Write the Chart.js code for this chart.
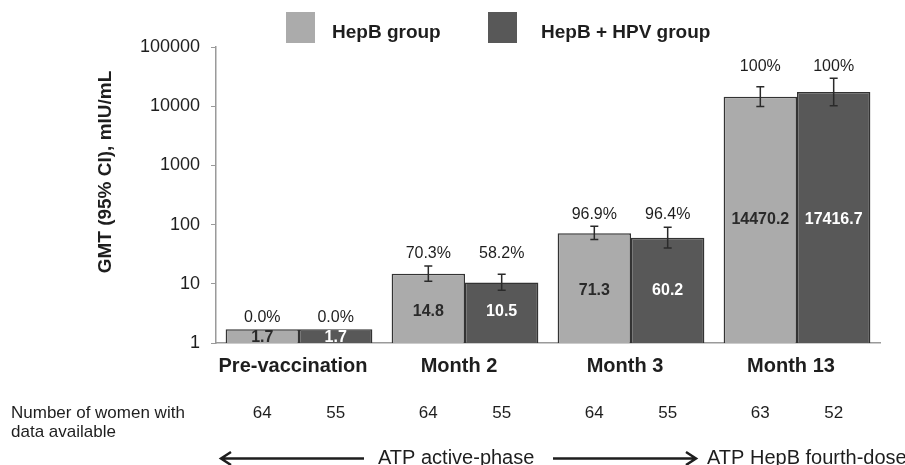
<!DOCTYPE html>
<html>
<head>
<meta charset="utf-8">
<script src="https://cdn.jsdelivr.net/npm/chart.js@4.4.1/dist/chart.umd.min.js"></script>
<style>
  html, body { margin: 0; padding: 0; background: #ffffff; }
  #wrap { width: 905px; height: 465px; position: relative; }
</style>
</head>
<body>
<div id="wrap"><canvas id="c" width="905" height="465"></canvas></div>
<script>
// ---- data ----
const categories = ['Pre-vaccination', 'Month 2', 'Month 3', 'Month 13'];
const seriesNames = ['HepB group', 'HepB + HPV group'];
const hepbGMT = [1.7, 14.8, 71.3, 14470.2];
const hpvGMT = [1.7, 10.5, 60.2, 17416.7];
const hepbLow = [null, 11.0, 55.8, 9850];
const hepbHigh = [null, 20.0, 93.6, 21400];
const hpvLow = [null, 7.8, 40.3, 10200];
const hpvHigh = [null, 14.5, 90.0, 29600];
const hepbSeroPct = ['0.0%', '70.3%', '96.9%', '100%'];
const hpvSeroPct = ['0.0%', '58.2%', '96.4%', '100%'];
const hepbN = [64, 64, 64, 63];
const hpvN = [55, 55, 55, 52];
const yTicks = [1, 10, 100, 1000, 10000, 100000];
const yTitle = 'GMT (95% CI), mIU/mL';
const rowLabel = ['Number of women with', 'data available'];
const phaseLabels = ['ATP active-phase', 'ATP HepB fourth-dose'];

const FONT = "'Liberation Sans', Arial, Helvetica, sans-serif";
const LIGHT = '#ababab';
const DARK = '#585858';
const TEXT = '#1e1e1e';

const lows = [hepbLow, hpvLow];
const highs = [hepbHigh, hpvHigh];
const pcts = [hepbSeroPct, hpvSeroPct];
const counts = [hepbN, hpvN];
const valueColors = ['#2a2a2a', '#ffffff'];

const annotate = {
  id: 'annotate',
  afterDatasetsDraw(chart) {
    const ctx = chart.ctx;
    const y = chart.scales.y;
    const metas = [chart.getDatasetMeta(0), chart.getDatasetMeta(1)];
    ctx.save();
    // error bars
    ctx.strokeStyle = '#2a2a2a';
    ctx.lineWidth = 1.5;
    for (let d = 0; d < 2; d++) {
      metas[d].data.forEach((bar, i) => {
        const lo = lows[d][i], hi = highs[d][i];
        if (lo == null || hi == null) return;
        const yl = y.getPixelForValue(lo), yh = y.getPixelForValue(hi);
        ctx.beginPath();
        ctx.moveTo(bar.x, yl); ctx.lineTo(bar.x, yh);
        ctx.moveTo(bar.x - 4, yl); ctx.lineTo(bar.x + 4, yl);
        ctx.moveTo(bar.x - 4, yh); ctx.lineTo(bar.x + 4, yh);
        ctx.stroke();
      });
    }
    // labels per group
    const base = y.getPixelForValue(1);
    categories.forEach((c, i) => {
      let top = Infinity, sumTop = 0;
      for (let d = 0; d < 2; d++) {
        const bar = metas[d].data[i];
        sumTop += bar.y;
        top = Math.min(top, bar.y);
        if (highs[d][i] != null) top = Math.min(top, y.getPixelForValue(highs[d][i]));
      }
      const midY = (sumTop / 2 + base) / 2 + 1;
      for (let d = 0; d < 2; d++) {
        const bar = metas[d].data[i];
        ctx.textAlign = 'center';
        ctx.textBaseline = 'middle';
        ctx.font = '16px ' + FONT;
        ctx.fillStyle = TEXT;
        ctx.fillText(pcts[d][i], bar.x, top - 12);
        ctx.font = 'bold 16px ' + FONT;
        ctx.fillStyle = valueColors[d];
        ctx.fillText(String(chart.data.datasets[d].data[i]), bar.x, midY);
        // counts row
        ctx.font = '17px ' + FONT;
        ctx.fillStyle = TEXT;
        ctx.fillText(String(counts[d][i]), bar.x, 413);
      }
    });
    ctx.restore();
  },
  afterDraw(chart) {
    const ctx = chart.ctx;
    ctx.save();
    // legend
    const ds = chart.data.datasets;
    const legendBoxes = [286, 488];
    const legendText = [332, 541];
    ctx.font = 'bold 19px ' + FONT;
    ctx.textBaseline = 'middle';
    ctx.textAlign = 'left';
    for (let d = 0; d < 2; d++) {
      ctx.fillStyle = ds[d].backgroundColor;
      ctx.fillRect(legendBoxes[d], 12, 29, 31);
      ctx.fillStyle = TEXT;
      ctx.fillText(ds[d].label, legendText[d], 33);
    }
    // y title
    ctx.save();
    ctx.translate(106, 172);
    ctx.rotate(-Math.PI / 2);
    ctx.textAlign = 'center';
    ctx.textBaseline = 'middle';
    ctx.font = 'bold 19px ' + FONT;
    ctx.fillStyle = TEXT;
    ctx.fillText(yTitle, 0, 0);
    ctx.restore();
    // row label
    ctx.font = '17px ' + FONT;
    ctx.fillStyle = TEXT;
    ctx.textAlign = 'left';
    ctx.fillText(rowLabel[0], 11, 413);
    ctx.fillText(rowLabel[1], 11, 432);
    // phase arrows
    ctx.strokeStyle = '#1e1e1e';
    ctx.lineWidth = 2.5;
    const ay = 458.5;
    ctx.beginPath();
    ctx.moveTo(221, ay); ctx.lineTo(364, ay);
    ctx.moveTo(231, ay - 6.5); ctx.lineTo(221, ay); ctx.lineTo(231, ay + 6.5);
    ctx.moveTo(553, ay); ctx.lineTo(696, ay);
    ctx.moveTo(686, ay - 6.5); ctx.lineTo(696, ay); ctx.lineTo(686, ay + 6.5);
    ctx.stroke();
    ctx.font = '20px ' + FONT;
    ctx.fillText(phaseLabels[0], 378, ay);
    ctx.fillText(phaseLabels[1], 707, ay);
    ctx.restore();
  }
};

new Chart(document.getElementById('c'), {
  type: 'bar',
  data: {
    labels: categories,
    datasets: [
      { label: seriesNames[0], data: hepbGMT, backgroundColor: LIGHT, borderColor: '#333333', borderWidth: 1.5 },
      { label: seriesNames[1], data: hpvGMT, backgroundColor: DARK, borderColor: '#333333', borderWidth: 1.5 }
    ]
  },
  options: {
    responsive: false,
    animation: false,
    devicePixelRatio: 1,
    categoryPercentage: 0.884,
    barPercentage: 1.0,
    layout: { padding: { top: 47, right: 25, bottom: 0, left: 0 } },
    plugins: { legend: { display: false }, tooltip: { enabled: false }, title: { display: false } },
    scales: {
      x: {
        grid: { display: false, drawTicks: false },
        border: { display: true, color: '#9a9a9a', width: 1.5 },
        ticks: { color: TEXT, font: { family: FONT, size: 20, weight: 'bold' }, padding: 11, labelOffset: -6, maxRotation: 0, autoSkip: false },
        afterFit(s) { s.height = 122; }
      },
      y: {
        type: 'logarithmic',
        min: 1,
        max: 100000,
        grid: { display: true, drawOnChartArea: false, drawTicks: true, tickLength: 5, color: '#9a9a9a' },
        border: { display: true, color: '#9a9a9a', width: 1.5 },
        ticks: { color: TEXT, font: { family: FONT, size: 18 }, padding: 11, callback: (v) => String(v) },
        afterBuildTicks(s) { s.ticks = yTicks.map(v => ({ value: v })); },
        afterFit(s) { s.width = 216; }
      }
    }
  },
  plugins: [annotate]
});
</script>
</body>
</html>
